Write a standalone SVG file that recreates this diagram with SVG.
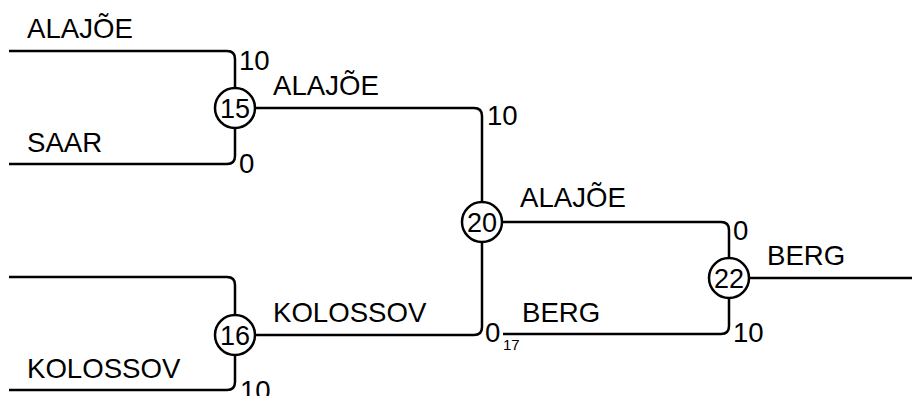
<svg xmlns="http://www.w3.org/2000/svg" width="912" height="396" viewBox="0 0 912 396">
<style>
.c{fill:none;stroke:#000;stroke-width:2.5;stroke-linecap:butt}
.n{fill:#fff;stroke:#000;stroke-width:2.5}
text{font-family:"Liberation Sans",Arial,sans-serif;font-size:27.6px;fill:#000}
.num{font-size:27px;text-anchor:middle}
.sub{font-size:15px}
</style>
<rect width="912" height="396" fill="#fff"/>
<g id="connectors">
<path class="c" d="M9,51 H227 Q235,51 235,59 V88"/>
<path class="c" d="M9,164 H227 Q235,164 235,156 V128"/>
<path class="c" d="M255,108 H474 Q482,108 482,116 V202"/>
<path class="c" d="M9,277 H227 Q235,277 235,285 V315"/>
<path class="c" d="M9,390 H227 Q235,390 235,382 V355"/>
<path class="c" d="M255,335 H474 Q482,335 482,327 V242"/>
<path class="c" d="M502,222 H721 Q729,222 729,230 V258"/>
<path class="c" d="M503,334 H721 Q729,334 729,326 V298"/>
<path class="c" d="M749,278 H912"/>
</g>
<g id="labels">
<text x="27" y="38">ALAJÕE</text>
<text x="27" y="152">SAAR</text>
<text x="239" y="70">10</text>
<text x="239" y="173">0</text>
<text x="273" y="95">ALAJÕE</text>
<text x="487" y="125">10</text>
<text x="27" y="378">KOLOSSOV</text>
<text x="240" y="400">10</text>
<text x="273" y="322">KOLOSSOV</text>
<text x="520" y="207">ALAJÕE</text>
<text x="485" y="342">0</text>
<text class="sub" x="503" y="350">17</text>
<text x="522" y="322">BERG</text>
<text x="733" y="240">0</text>
<text x="733" y="342">10</text>
<text x="767" y="265">BERG</text>
</g>
<g id="match15"><circle class="n" cx="235" cy="108" r="20"/><text class="num" x="235" y="118">15</text></g>
<g id="match16"><circle class="n" cx="235" cy="335" r="20"/><text class="num" x="235" y="345">16</text></g>
<g id="match20"><circle class="n" cx="482" cy="222" r="20"/><text class="num" x="482" y="232">20</text></g>
<g id="match22"><circle class="n" cx="729" cy="278" r="20"/><text class="num" x="729" y="288">22</text></g>
</svg>
